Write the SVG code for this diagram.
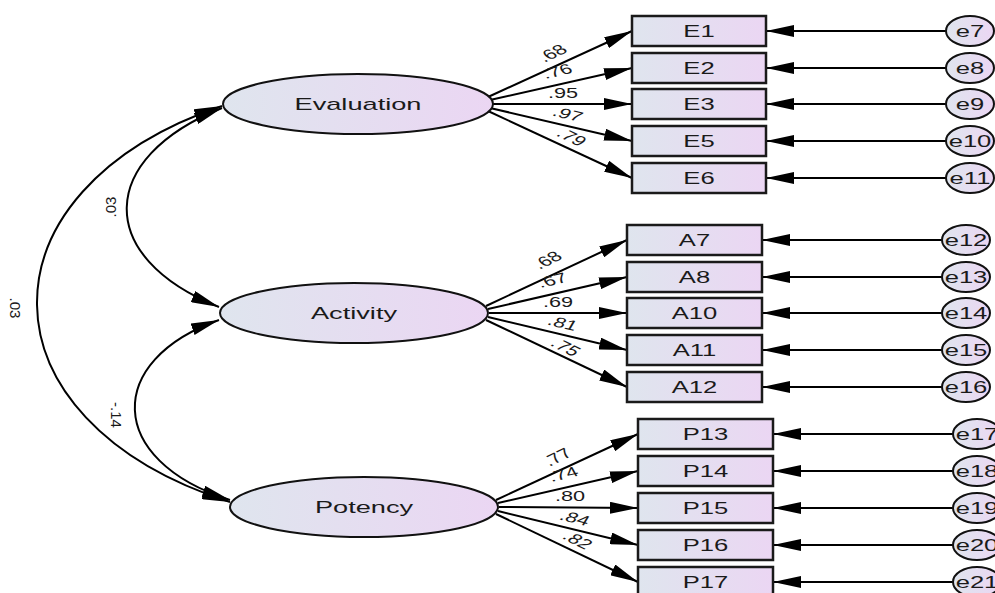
<svg xmlns="http://www.w3.org/2000/svg" width="995" height="593" viewBox="0 0 995 593">
<defs>
<linearGradient id="fillg" x1="0" y1="0" x2="1" y2="0">
<stop offset="0" stop-color="#dfe5ee"/>
<stop offset="1" stop-color="#ebd6f3"/>
</linearGradient>
<marker id="ah" markerUnits="userSpaceOnUse" viewBox="0 0 28 12" markerWidth="28" markerHeight="12" refX="28" refY="6" orient="auto-start-reverse">
<path d="M0,0 L28,6 L0,12 Z" fill="#000"/>
</marker>
<style>
.lat{fill:url(#fillg);stroke:#111;stroke-width:2}
.box{fill:url(#fillg);stroke:#1a1a1a;stroke-width:2.5}
.err{fill:url(#fillg);stroke:#111;stroke-width:2}
.ln{fill:none;stroke:#000;stroke-width:2;marker-end:url(#ah)}
.cov{fill:none;stroke:#000;stroke-width:2;marker-start:url(#ah);marker-end:url(#ah)}
text{font-family:"Liberation Sans",Arial,sans-serif;fill:#1a1a1a}
.nt{font-size:17px;text-anchor:middle}
.bt{font-size:16px;text-anchor:middle}
.pl{font-size:14px;text-anchor:middle}
.cl{font-size:15px;text-anchor:middle}
</style>
</defs>

<g id="connectors">
<path class="cov" d="M222,108 C97,158 94,257 219,307"/>
<path class="cov" d="M222,106 C-26,190 -26,420 230,502"/>
<path class="cov" d="M219,320 C105,360 105,460 230,500"/>
<line class="ln" x1="488" y1="97" x2="632" y2="31"/>
<line class="ln" x1="490" y1="100" x2="632" y2="68"/>
<line class="ln" x1="491" y1="104" x2="632" y2="104"/>
<line class="ln" x1="490" y1="108" x2="632" y2="141"/>
<line class="ln" x1="488" y1="111" x2="632" y2="178"/>
<line class="ln" x1="486" y1="306" x2="627" y2="240"/>
<line class="ln" x1="488" y1="309" x2="627" y2="277"/>
<line class="ln" x1="489" y1="313" x2="627" y2="313"/>
<line class="ln" x1="488" y1="317" x2="627" y2="350"/>
<line class="ln" x1="486" y1="320" x2="627" y2="387"/>
<line class="ln" x1="496" y1="500" x2="638" y2="434"/>
<line class="ln" x1="498" y1="503" x2="638" y2="471"/>
<line class="ln" x1="499" y1="507" x2="638" y2="508"/>
<line class="ln" x1="498" y1="511" x2="638" y2="545"/>
<line class="ln" x1="496" y1="514" x2="638" y2="582"/>
<line class="ln" x1="946" y1="31" x2="766" y2="31"/>
<line class="ln" x1="946" y1="68" x2="766" y2="68"/>
<line class="ln" x1="946" y1="104" x2="766" y2="104"/>
<line class="ln" x1="946" y1="141" x2="766" y2="141"/>
<line class="ln" x1="946" y1="178" x2="766" y2="178"/>
<line class="ln" x1="942" y1="240" x2="762" y2="240"/>
<line class="ln" x1="942" y1="277" x2="762" y2="277"/>
<line class="ln" x1="942" y1="313" x2="762" y2="313"/>
<line class="ln" x1="942" y1="350" x2="762" y2="350"/>
<line class="ln" x1="942" y1="387" x2="762" y2="387"/>
<line class="ln" x1="953" y1="434" x2="773" y2="434"/>
<line class="ln" x1="953" y1="471" x2="773" y2="471"/>
<line class="ln" x1="953" y1="508" x2="773" y2="508"/>
<line class="ln" x1="953" y1="545" x2="773" y2="545"/>
<line class="ln" x1="953" y1="582" x2="773" y2="582"/>
<text class="cl" transform="translate(111,207) rotate(-90)" dy="5">.03</text>
<text class="cl" transform="translate(15,308) rotate(90)" dy="5">.03</text>
<text class="cl" transform="translate(116,415) rotate(90)" dy="5">-.14</text>
<text class="pl" transform="translate(552,53) scale(1.55,1) rotate(-36.3)" dy="5">.68</text>
<text class="pl" transform="translate(557,71) scale(1.55,1) rotate(-20.1)" dy="5">.76</text>
<text class="pl" transform="translate(563,93) scale(1.55,1)" dy="5">.95</text>
<text class="pl" transform="translate(568,114) scale(1.55,1) rotate(20.4)" dy="5">.97</text>
<text class="pl" transform="translate(572,137) scale(1.55,1) rotate(36.7)" dy="5">.79</text>
<text class="pl" transform="translate(547,260) scale(1.55,1) rotate(-36.8)" dy="5">.68</text>
<text class="pl" transform="translate(552,280) scale(1.55,1) rotate(-20.1)" dy="5">.67</text>
<text class="pl" transform="translate(558,302) scale(1.55,1)" dy="5">.69</text>
<text class="pl" transform="translate(563,323) scale(1.55,1) rotate(20.6)" dy="5">.81</text>
<text class="pl" transform="translate(566,347) scale(1.55,1) rotate(37.2)" dy="5">.75</text>
<text class="pl" transform="translate(557,457) scale(1.55,1) rotate(-36.6)" dy="5">.77</text>
<text class="pl" transform="translate(563,474) scale(1.55,1) rotate(-19.8)" dy="5">.74</text>
<text class="pl" transform="translate(570,496) scale(1.55,1)" dy="5">.80</text>
<text class="pl" transform="translate(575,518) scale(1.55,1) rotate(21.2)" dy="5">.84</text>
<text class="pl" transform="translate(578,540) scale(1.55,1) rotate(37.5)" dy="5">.82</text>
</g>

<g id="Evaluation"><ellipse class="lat" cx="358" cy="104" rx="135" ry="30"/><text class="nt" transform="translate(358,110) scale(1.6,1)">Evaluation</text></g>
<g id="Activity"><ellipse class="lat" cx="354" cy="313" rx="134" ry="30"/><text class="nt" transform="translate(354,319) scale(1.6,1)">Activity</text></g>
<g id="Potency"><ellipse class="lat" cx="364" cy="507" rx="134" ry="30"/><text class="nt" transform="translate(364,513) scale(1.6,1)">Potency</text></g>

<g id="E1"><rect class="box" x="632" y="16" width="134" height="30"/><text class="bt" transform="translate(699,37) scale(1.6,1)">E1</text></g>
<g id="E2"><rect class="box" x="632" y="53" width="134" height="30"/><text class="bt" transform="translate(699,74) scale(1.6,1)">E2</text></g>
<g id="E3"><rect class="box" x="632" y="89" width="134" height="30"/><text class="bt" transform="translate(699,110) scale(1.6,1)">E3</text></g>
<g id="E5"><rect class="box" x="632" y="126" width="134" height="30"/><text class="bt" transform="translate(699,147) scale(1.6,1)">E5</text></g>
<g id="E6"><rect class="box" x="632" y="163" width="134" height="30"/><text class="bt" transform="translate(699,184) scale(1.6,1)">E6</text></g>

<g id="A7"><rect class="box" x="627" y="225" width="135" height="30"/><text class="bt" transform="translate(694.5,246) scale(1.6,1)">A7</text></g>
<g id="A8"><rect class="box" x="627" y="262" width="135" height="30"/><text class="bt" transform="translate(694.5,283) scale(1.6,1)">A8</text></g>
<g id="A10"><rect class="box" x="627" y="298" width="135" height="30"/><text class="bt" transform="translate(694.5,319) scale(1.6,1)">A10</text></g>
<g id="A11"><rect class="box" x="627" y="335" width="135" height="30"/><text class="bt" transform="translate(694.5,356) scale(1.6,1)">A11</text></g>
<g id="A12"><rect class="box" x="627" y="372" width="135" height="30"/><text class="bt" transform="translate(694.5,393) scale(1.6,1)">A12</text></g>

<g id="P13"><rect class="box" x="638" y="419" width="135" height="30"/><text class="bt" transform="translate(705.5,440) scale(1.6,1)">P13</text></g>
<g id="P14"><rect class="box" x="638" y="456" width="135" height="30"/><text class="bt" transform="translate(705.5,477) scale(1.6,1)">P14</text></g>
<g id="P15"><rect class="box" x="638" y="493" width="135" height="30"/><text class="bt" transform="translate(705.5,514) scale(1.6,1)">P15</text></g>
<g id="P16"><rect class="box" x="638" y="530" width="135" height="30"/><text class="bt" transform="translate(705.5,551) scale(1.6,1)">P16</text></g>
<g id="P17"><rect class="box" x="638" y="567" width="135" height="30"/><text class="bt" transform="translate(705.5,588) scale(1.6,1)">P17</text></g>

<g id="e7"><ellipse class="err" cx="970" cy="31" rx="24" ry="15"/><text class="bt" transform="translate(970,37) scale(1.6,1)">e7</text></g>
<g id="e8"><ellipse class="err" cx="970" cy="68" rx="24" ry="15"/><text class="bt" transform="translate(970,74) scale(1.6,1)">e8</text></g>
<g id="e9"><ellipse class="err" cx="970" cy="104" rx="24" ry="15"/><text class="bt" transform="translate(970,110) scale(1.6,1)">e9</text></g>
<g id="e10"><ellipse class="err" cx="970" cy="141" rx="24" ry="15"/><text class="bt" transform="translate(970,147) scale(1.6,1)">e10</text></g>
<g id="e11"><ellipse class="err" cx="970" cy="178" rx="24" ry="15"/><text class="bt" transform="translate(970,184) scale(1.6,1)">e11</text></g>
<g id="e12"><ellipse class="err" cx="966" cy="240" rx="24" ry="15"/><text class="bt" transform="translate(966,246) scale(1.6,1)">e12</text></g>
<g id="e13"><ellipse class="err" cx="966" cy="277" rx="24" ry="15"/><text class="bt" transform="translate(966,283) scale(1.6,1)">e13</text></g>
<g id="e14"><ellipse class="err" cx="966" cy="313" rx="24" ry="15"/><text class="bt" transform="translate(966,319) scale(1.6,1)">e14</text></g>
<g id="e15"><ellipse class="err" cx="966" cy="350" rx="24" ry="15"/><text class="bt" transform="translate(966,356) scale(1.6,1)">e15</text></g>
<g id="e16"><ellipse class="err" cx="966" cy="387" rx="24" ry="15"/><text class="bt" transform="translate(966,393) scale(1.6,1)">e16</text></g>
<g id="e17"><ellipse class="err" cx="977" cy="434" rx="24" ry="15"/><text class="bt" transform="translate(977,440) scale(1.6,1)">e17</text></g>
<g id="e18"><ellipse class="err" cx="977" cy="471" rx="24" ry="15"/><text class="bt" transform="translate(977,477) scale(1.6,1)">e18</text></g>
<g id="e19"><ellipse class="err" cx="977" cy="508" rx="24" ry="15"/><text class="bt" transform="translate(977,514) scale(1.6,1)">e19</text></g>
<g id="e20"><ellipse class="err" cx="977" cy="545" rx="24" ry="15"/><text class="bt" transform="translate(977,551) scale(1.6,1)">e20</text></g>
<g id="e21"><ellipse class="err" cx="977" cy="582" rx="24" ry="15"/><text class="bt" transform="translate(977,588) scale(1.6,1)">e21</text></g>
</svg>
